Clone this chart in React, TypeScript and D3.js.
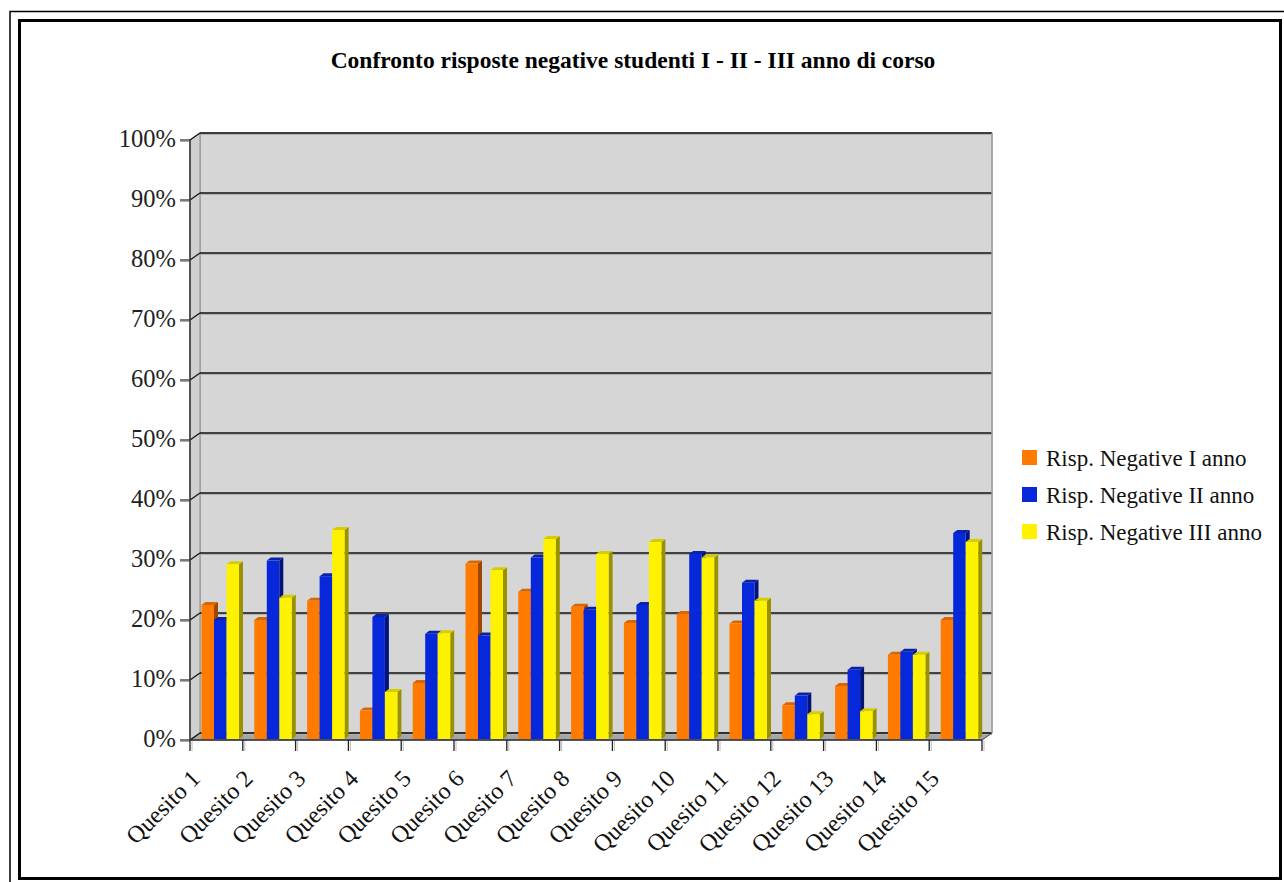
import React from "react";
import * as d3 from "d3";

const categories = ["Quesito 1","Quesito 2","Quesito 3","Quesito 4","Quesito 5","Quesito 6","Quesito 7","Quesito 8","Quesito 9","Quesito 10","Quesito 11","Quesito 12","Quesito 13","Quesito 14","Quesito 15"];
const seriesNames = ["Risp. Negative I anno","Risp. Negative II anno","Risp. Negative III anno"];
const annoI = [22.5, 20, 23.2, 4.9, 9.5, 29.4, 24.7, 22.2, 19.5, 21, 19.4, 5.8, 9, 14.2, 20];
const annoII = [20, 29.9, 27.3, 20.5, 17.7, 17.4, 30.4, 21.7, 22.5, 31, 26.2, 7.4, 11.7, 14.7, 34.5];
const annoIII = [29.3, 23.7, 35, 8, 17.8, 28.3, 33.5, 31, 33, 30.4, 23.2, 4.3, 4.8, 14.2, 33];
const yTicks = [0, 10, 20, 30, 40, 50, 60, 70, 80, 90, 100];
const title = "Confronto risposte negative studenti I - II - III anno di corso";

const colors = [
  { front: "#ff7a00", top: "#d96600", side: "#9c4600" },
  { front: "#0628da", top: "#0a22a8", side: "#021478" },
  { front: "#fff200", top: "#d6cc00", side: "#999100" },
];

const FONT = "'Liberation Serif', 'DejaVu Serif', serif";

export default function App() {
  const data = [annoI, annoII, annoIII];
  const x0 = 190, x1 = 982;
  const DX = 10, DY = -7;
  const x = d3.scaleBand<string>().domain(categories).range([x0, x1]).paddingInner(0).paddingOuter(0);
  const y = d3.scaleLinear().domain([0, 100]).range([740, 140]);
  const sub = d3.scaleBand<string>().domain(seriesNames).range([11.5, 11.5 + 37.5]).padding(0);
  const bw = sub.bandwidth();
  const bdx = 4, bdy = -3;

  return (
    <svg width={1284} height={882} style={{ position: "absolute", left: 0, top: 0, background: "#fff" }}>
      <rect x={0} y={0} width={1284} height={882} fill="#fff" />
      {/* frames */}
      <rect x={10} y={11.5} width={1300} height={900} fill="none" stroke="#000" strokeWidth={1.5} />
      <rect x={19.5} y={20.5} width={1261} height={858} fill="none" stroke="#000" strokeWidth={3} />

      {/* title */}
      <text x={633} y={68} textAnchor="middle" fontFamily={FONT} fontWeight="bold" fontSize={23.5} fill="#000">{title}</text>

      {/* back wall */}
      <rect x={x0 + DX} y={y(100) + DY} width={x1 - x0} height={y(0) - y(100)} fill="#d6d6d6" stroke="#9a9a9a" strokeWidth={1} />
      {/* left side wall */}
      <path d={`M${x0},${y(0)} L${x0},${y(100)} L${x0 + DX},${y(100) + DY} L${x0 + DX},${y(0) + DY} Z`} fill="#cfcfcf" stroke="#8a8a8a" />
      {/* floor */}
      <path d={`M${x0},${y(0)} L${x0 + DX},${y(0) + DY} L${x1 + DX},${y(0) + DY} L${x1},${y(0)} Z`} fill="#a6a6a6" stroke="#7a7a7a" />

      {/* gridlines */}
      {yTicks.map((t) => (
        <g key={t}>
          <line x1={x0 + DX} x2={x1 + DX} y1={y(t) + DY + 1.5} y2={y(t) + DY + 1.5} stroke="#b0b0b0" strokeWidth={1} />
          <line x1={x0} x2={x0 + DX} y1={y(t)} y2={y(t) + DY} stroke="#111" strokeWidth={1.2} />
          <line x1={x0 + DX} x2={x1 + DX} y1={y(t) + DY} y2={y(t) + DY} stroke="#111" strokeWidth={1.3} />
          <line x1={180} x2={x0} y1={y(t)} y2={y(t)} stroke="#222" strokeWidth={1.2} />
          <line x1={180} x2={x0} y1={y(t) + 1.5} y2={y(t) + 1.5} stroke="#aaa" strokeWidth={1} />
          <text x={176} y={y(t) + 7} textAnchor="end" fontFamily={FONT} fontSize={24.5} fill="#222">{t}%</text>
        </g>
      ))}
      {/* back wall right edge */}
      <line x1={x1 + DX} x2={x1 + DX} y1={y(100) + DY} y2={y(0) + DY} stroke="#a0a0a0" strokeWidth={1.5} />

      {/* axis lines */}
      <line x1={x0} x2={x0} y1={y(100)} y2={y(0)} stroke="#333" strokeWidth={1.5} />
      <line x1={x0} x2={x1} y1={y(0)} y2={y(0)} stroke="#333" strokeWidth={1.5} />
      <line x1={x1} x2={x1 + DX} y1={y(0)} y2={y(0) + DY} stroke="#555" strokeWidth={1} />

      {/* x ticks */}
      {[...categories.map((c) => x(c) as number), x1].map((tx, i) => (
        <g key={i}>
          <line x1={tx} x2={tx} y1={y(0)} y2={y(0) + 11} stroke="#222" strokeWidth={1.3} />
          <line x1={tx + 2} x2={tx + 2} y1={y(0) + 1} y2={y(0) + 11} stroke="#bbb" strokeWidth={1} />
        </g>
      ))}

      {/* bars */}
      {categories.map((c, ci) => (
        <g key={c}>
          {seriesNames.map((s, si) => {
            const v = data[si][ci];
            const bx = (x(c) as number) + (sub(s) as number);
            const by = y(v);
            const b0 = y(0) - 1;
            const col = colors[si];
            return (
              <g key={s}>
                <path d={`M${bx + bw},${b0} L${bx + bw},${by} L${bx + bw + bdx},${by + bdy} L${bx + bw + bdx},${b0 + bdy} Z`} fill={col.side} />
                <path d={`M${bx},${by} L${bx + bdx},${by + bdy} L${bx + bw + bdx},${by + bdy} L${bx + bw},${by} Z`} fill={col.top} />
                <rect x={bx} y={by} width={bw} height={b0 - by} fill={col.front} />
              </g>
            );
          })}
        </g>
      ))}

      {/* x labels */}
      {categories.map((c) => {
        const cx = (x(c) as number) + x.bandwidth() / 2 - 15;
        const cy = y(0) + 40;
        return (
          <text key={c} transform={`translate(${cx},${cy}) rotate(-45)`} textAnchor="end" fontFamily={FONT} fontSize={24} fill="#111">{c}</text>
        );
      })}

      {/* legend */}
      {seriesNames.map((s, i) => (
        <g key={s} transform={`translate(1022, ${450 + i * 37})`}>
          <rect x={0} y={0} width={15} height={15} fill={colors[i].front} />
          <text x={24} y={16} fontFamily={FONT} fontSize={23} fill="#111">{s}</text>
        </g>
      ))}
    </svg>
  );
}
